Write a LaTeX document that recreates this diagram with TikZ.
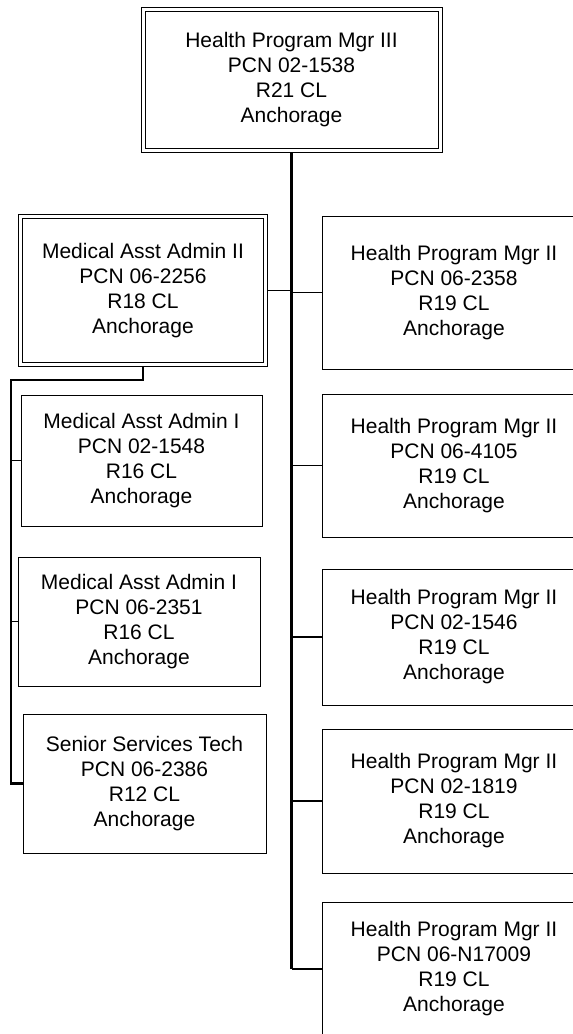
\documentclass[tikz,border=0pt]{standalone}
\usepackage{fontspec}
\setmainfont{Liberation Sans}
\usetikzlibrary{calc}
\tikzset{
  posbox/.style={draw=black, line width=1pt, inner sep=0pt, align=center,
    font=\fontsize{21}{25}\selectfont},
  dblbox/.style={posbox, double, double distance=3pt},
  trunk/.style={draw=black, line width=2.2pt},
  conn/.style={draw=black, line width=1.2pt},
}
\begin{document}
\begin{tikzpicture}[x=1pt,y=-1pt]
\useasboundingbox (0,0) rectangle (573,1034);
\clip (0,0) rectangle (573,1034);
% top
\node[dblbox, minimum width=297pt, minimum height=141pt] (top) at (291.5,80)
  {Health Program Mgr III\\PCN 02-1538\\R21 CL\\Anchorage};
\node[dblbox, minimum width=245pt, minimum height=148.5pt] (m2) at (143,290.25)
  {Medical Asst Admin II\\PCN 06-2256\\R18 CL\\Anchorage};
% left boxes
\node[posbox, minimum width=241pt, minimum height=131pt] (a) at (141.5,460.5)
  {Medical Asst Admin I\\PCN 02-1548\\R16 CL\\Anchorage};
\node[posbox, minimum width=242pt, minimum height=129pt] (b) at (139,621.5)
  {Medical Asst Admin I\\PCN 06-2351\\R16 CL\\Anchorage};
\node[posbox, minimum width=243pt, minimum height=139pt] (c) at (144.5,783.5)
  {Senior Services Tech\\PCN 06-2386\\R12 CL\\Anchorage};
% right boxes
\node[posbox, minimum width=264pt, minimum height=153pt] (r1) at (454,292.5)
  {Health Program Mgr II\\PCN 06-2358\\R19 CL\\Anchorage};
\node[posbox, minimum width=264pt, minimum height=143pt] (r2) at (454,465.5)
  {Health Program Mgr II\\PCN 06-4105\\R19 CL\\Anchorage};
\node[posbox, minimum width=264pt, minimum height=136pt] (r3) at (454,637)
  {Health Program Mgr II\\PCN 02-1546\\R19 CL\\Anchorage};
\node[posbox, minimum width=264pt, minimum height=144pt] (r4) at (454,801)
  {Health Program Mgr II\\PCN 02-1819\\R19 CL\\Anchorage};
\node[posbox, minimum width=264pt, minimum height=134pt] (r5) at (454,969)
  {Health Program Mgr II\\PCN 06-N17009\\R19 CL\\Anchorage};
% trunk
\coordinate (tend) at (top.south |- r5.west);
\draw[trunk] ($(top.south)+(0,2)$) -- (tend);
\draw[trunk] (tend) -- (r5.west);
\draw[conn] (top.south |- r1.west) -- (r1.west);
\draw[conn] (top.south |- r2.west) -- (r2.west);
\draw[conn] (top.south |- r3.west) -- (r3.west);
\draw[conn] (top.south |- r4.west) -- (r4.west);
\draw[conn] ($(m2.east)+(2,0)$) -- (m2.east -| top.south);
% left branch
\coordinate (lv) at (11,380);
\draw[trunk] ($(m2.south)+(0,2)$) |- (lv) |- (c.west);
\draw[conn] (lv |- a.west) -- (a.west);
\draw[conn] (lv |- b.west) -- (b.west);
\end{tikzpicture}
\end{document}
